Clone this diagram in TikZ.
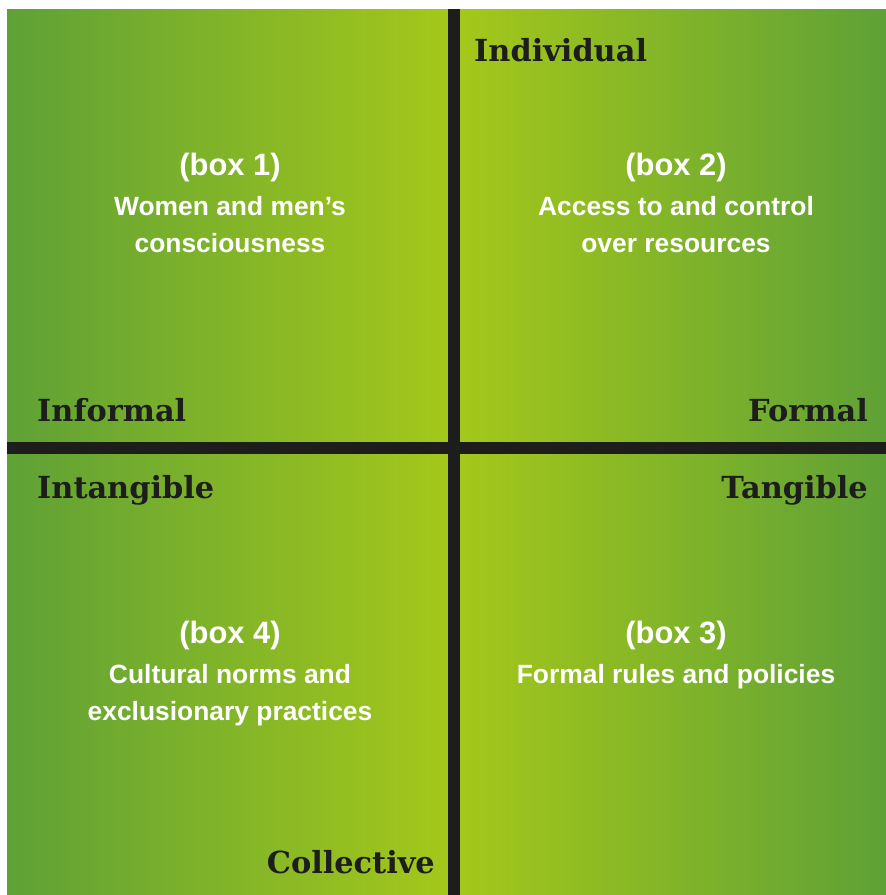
\documentclass[tikz,border=0pt]{standalone}
\usepackage{fontspec}
\setmainfont{Liberation Sans}
\newfontfamily\slabfont{DejaVu Serif}
\usepackage{tikz}
\definecolor{outergreen}{HTML}{5FA136}
\definecolor{innergreen}{HTML}{A5C81A}
\definecolor{crossblack}{HTML}{1D1D1B}
\tikzset{
  axislabel/.style={text=crossblack, font=\slabfont\bfseries\fontsize{30.5}{34}\selectfont, inner sep=0pt},
  boxnum/.style={text=white, font=\fontsize{31}{36}\selectfont\bfseries, inner sep=0pt},
  boxtext/.style={text=white, font=\fontsize{26.5}{37}\selectfont\bfseries, align=center, inner sep=0pt}
}

\begin{document}
\begin{tikzpicture}[x=1bp, y=-1bp]
      \useasboundingbox (0,0) rectangle (886,895);
      % Quadrants:
      \shade[left color=outergreen, right color=innergreen] (7,9) rectangle (454,448);
      \shade[left color=innergreen, right color=outergreen] (454,9) rectangle (886,448);
      \shade[left color=outergreen, right color=innergreen] (7,448) rectangle (454,895);
      \shade[left color=innergreen, right color=outergreen] (454,448) rectangle (886,895);
      % Cross:
      \draw[line width=12bp, crossblack] (454,9) -- (454,895);
      \draw[line width=12bp, crossblack] (7,448) -- (886,448);
      % Axis labels:
      \node[axislabel, anchor=west] (individual) at (474,50) {Individual};
      \node[axislabel, anchor=west] (informal) at (37,410) {Informal};
      \node[axislabel, anchor=east] (formal) at (868,410) {Formal};
      \node[axislabel, anchor=west] (intangible) at (37,490) {Intangible};
      \node[axislabel, anchor=east] (tangible) at (868,490) {Tangible};
      \node[axislabel, anchor=east] (collective) at (435,862) {Collective};
      % Boxes:
      \node[boxnum] (box1) at (230,168) {(box 1)};
      \node[boxtext, anchor=north] (box1text) at (230,196) {Women and men’s\\consciousness};
      \node[boxnum] (box2) at (676,168) {(box 2)};
      \node[boxtext, anchor=north] (box2text) at (676,196) {Access to and control\\over resources};
      \node[boxnum] (box4) at (230,636) {(box 4)};
      \node[boxtext, anchor=north] (box4text) at (230,664) {Cultural norms and\\exclusionary practices};
      \node[boxnum] (box3) at (676,636) {(box 3)};
      \node[boxtext, anchor=north] (box3text) at (676,664) {Formal rules and policies};
    \end{tikzpicture}
\end{document}
